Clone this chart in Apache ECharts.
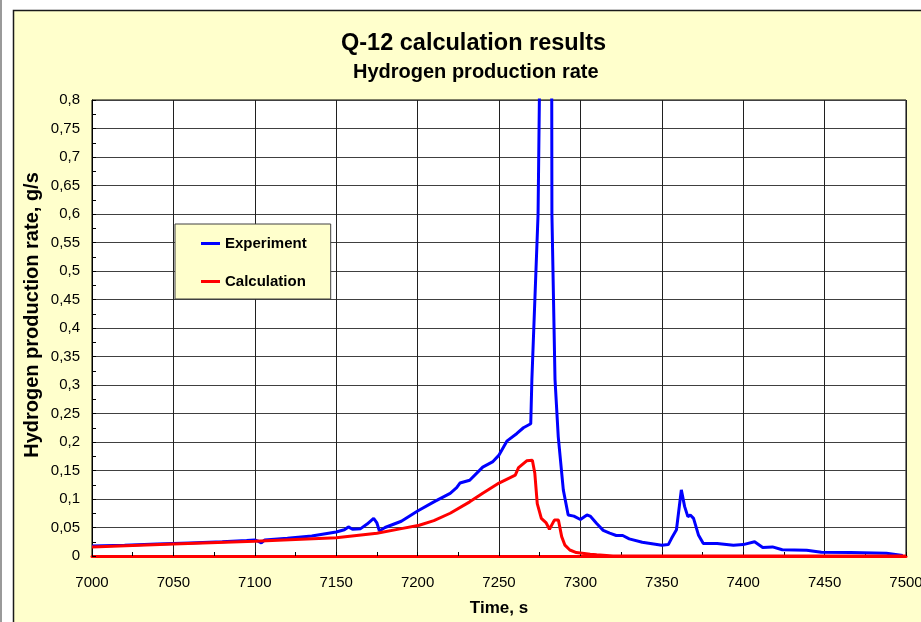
<!DOCTYPE html>
<html>
<head>
<meta charset="utf-8">
<title>Q-12 calculation results</title>
<script src="https://cdn.jsdelivr.net/npm/echarts@6/dist/echarts.min.js"></script>
<style>
  html, body { margin: 0; padding: 0; background: #ffffff; }
  #chart { width: 921px; height: 622px; }
</style>
</head>
<body>
<div id="chart"></div>
<script>
// Experiment: measured hydrogen production rate (g/s) against time (s)
const expTime = [7000, 7020, 7040, 7060, 7080, 7095, 7100, 7102, 7104, 7106,
  7120, 7135, 7150, 7155, 7157.5, 7160, 7165, 7169, 7173, 7175,
  7176.5, 7180, 7190, 7200, 7210, 7220, 7224, 7226, 7232, 7240,
  7246, 7250, 7255, 7261, 7265, 7269.5, 7270.2, 7274, 7274.8, 7276,
  7278, 7281.5, 7282.4, 7282.5, 7284.4, 7286.4, 7289.5, 7292.5, 7296, 7300,
  7304, 7306, 7310, 7314, 7318, 7322, 7326, 7330, 7338, 7343,
  7350, 7354, 7356, 7359, 7362, 7364, 7366, 7367.5, 7369.5, 7372.5,
  7375.5, 7384, 7394, 7400, 7407, 7412, 7418, 7424, 7439, 7448,
  7466, 7488, 7498];
const expRate = [0.0175, 0.019, 0.021, 0.023, 0.025, 0.027, 0.028, 0.026, 0.023, 0.028,
  0.031, 0.035, 0.042, 0.046, 0.051, 0.047, 0.048, 0.056, 0.066, 0.058,
  0.044, 0.050, 0.061, 0.079, 0.095, 0.110, 0.120, 0.128, 0.133, 0.156,
  0.165, 0.177, 0.202, 0.215, 0.225, 0.232, 0.31, 0.6, 0.8, 1.0,
  1.1, 1.0, 0.8, 0.6, 0.31, 0.209, 0.116, 0.072, 0.070, 0.064,
  0.072, 0.070, 0.057, 0.045, 0.040, 0.036, 0.036, 0.030, 0.024, 0.022,
  0.019, 0.020, 0.031, 0.046, 0.116, 0.087, 0.069, 0.072, 0.066, 0.037,
  0.022, 0.022, 0.019, 0.020, 0.025, 0.015, 0.016, 0.011, 0.010, 0.0065,
  0.006, 0.0047, 0.001];

// Calculation: computed hydrogen production rate (g/s)
const calcTime = [7000, 7050, 7100, 7150, 7175, 7190, 7201, 7210, 7220, 7232,
  7240, 7250, 7260, 7261, 7262, 7267, 7270.5, 7272, 7273.5, 7276,
  7279, 7281, 7284, 7286.5, 7288.5, 7290.5, 7293.5, 7297.5, 7306, 7310,
  7320, 7500];
const calcRate = [0.016, 0.021, 0.026, 0.032, 0.040, 0.048, 0.054, 0.062, 0.075, 0.095,
  0.110, 0.128, 0.142, 0.144, 0.155, 0.167, 0.168, 0.145, 0.092, 0.066,
  0.058, 0.047, 0.063, 0.063, 0.034, 0.019, 0.0105, 0.006, 0.003, 0.002,
  0, 0];

// Axis ranges: [min, max, step]
const timeRange = [7000, 7500, 50];
const rateRange = [0, 0.8, 0.05];

const pair = (xs, ys) => xs.map((x, i) => [x, ys[i]]);
const commaDecimal = v => String(+v.toFixed(3)).replace('.', ',');

const FONT = '"Liberation Sans", Arial, sans-serif';
const chart = echarts.init(document.getElementById('chart'));

chart.setOption({
  backgroundColor: '#ffffff',
  animation: false,
  graphic: [
    { type: 'line', shape: { x1: 1, y1: 0, x2: 1, y2: 622 }, style: { stroke: '#9a9a9a', lineWidth: 2 }, silent: true },
    { type: 'rect', shape: { x: 13.5, y: 10.5, width: 930, height: 640 },
      style: { fill: '#FFFFCC', stroke: '#1a1a1a', lineWidth: 1.5 }, z: -10, silent: true }
  ],
  title: [
    { text: 'Q-12 calculation results', left: 341, top: 32, padding: 0,
      textStyle: { fontFamily: FONT, fontSize: 23.5, fontWeight: 'bold', color: '#000' } },
    { text: 'Hydrogen production rate', left: 353, top: 62, padding: 0,
      textStyle: { fontFamily: FONT, fontSize: 20, fontWeight: 'bold', color: '#000' } }
  ],
  legend: {
    data: ['Experiment', 'Calculation'],
    orient: 'vertical',
    left: 175, top: 224,
    padding: [12, 24, 10, 26],
    itemGap: 23,
    itemWidth: 19, itemHeight: 3,
    icon: 'rect',
    backgroundColor: '#FFFFCC',
    borderColor: '#404040', borderWidth: 1,
    textStyle: { fontFamily: FONT, fontSize: 15, fontWeight: 'bold', color: '#000' }
  },
  grid: {
    left: 92, right: 15, top: 100, bottom: 66,
    outerBoundsMode: 'none',
    show: true, backgroundColor: '#ffffff', borderColor: '#000', borderWidth: 1
  },
  xAxis: {
    type: 'value',
    min: timeRange[0], max: timeRange[1], interval: timeRange[2],
    name: 'Time, s', nameLocation: 'middle', nameGap: 44, nameMoveOverlap: false,
    nameTextStyle: { fontFamily: FONT, fontSize: 17, fontWeight: 'bold', color: '#000' },
    axisLine: { show: true, onZero: false, lineStyle: { color: '#FF0000', width: 3 } },
    axisTick: { show: true, inside: true, length: 4, lineStyle: { color: '#000' } },
    minorTick: { show: true, splitNumber: 2, length: 4, lineStyle: { color: '#000' } },
    axisLabel: { margin: 19, fontFamily: FONT, fontSize: 15, color: '#000', formatter: v => String(v) },
    splitLine: { show: true, lineStyle: { color: '#202020', width: 1 } }
  },
  yAxis: {
    type: 'value',
    min: rateRange[0], max: rateRange[1], interval: rateRange[2],
    name: 'Hydrogen production rate, g/s', nameLocation: 'middle', nameGap: 50, nameMoveOverlap: false,
    nameTextStyle: { fontFamily: FONT, fontSize: 20, fontWeight: 'bold', color: '#000', padding: [0, 0, 0, 26] },
    axisLine: { show: true, lineStyle: { color: '#000', width: 1 } },
    axisTick: { show: true, inside: true, length: 4, lineStyle: { color: '#000' } },
    minorTick: { show: true, splitNumber: 2, length: 4, lineStyle: { color: '#000' } },
    axisLabel: { margin: 12, fontFamily: FONT, fontSize: 15, color: '#000', formatter: commaDecimal },
    splitLine: { show: true, lineStyle: { color: '#404040', width: 1 } }
  },
  series: [
    { name: 'Experiment', type: 'line', data: pair(expTime, expRate),
      showSymbol: false, clip: true, color: '#0000FF',
      lineStyle: { color: '#0000FF', width: 3 }, z: 3 },
    { name: 'Calculation', type: 'line', data: pair(calcTime, calcRate),
      showSymbol: false, clip: true, color: '#FF0000',
      lineStyle: { color: '#FF0000', width: 3 }, z: 4 }
  ]
});
</script>
</body>
</html>
